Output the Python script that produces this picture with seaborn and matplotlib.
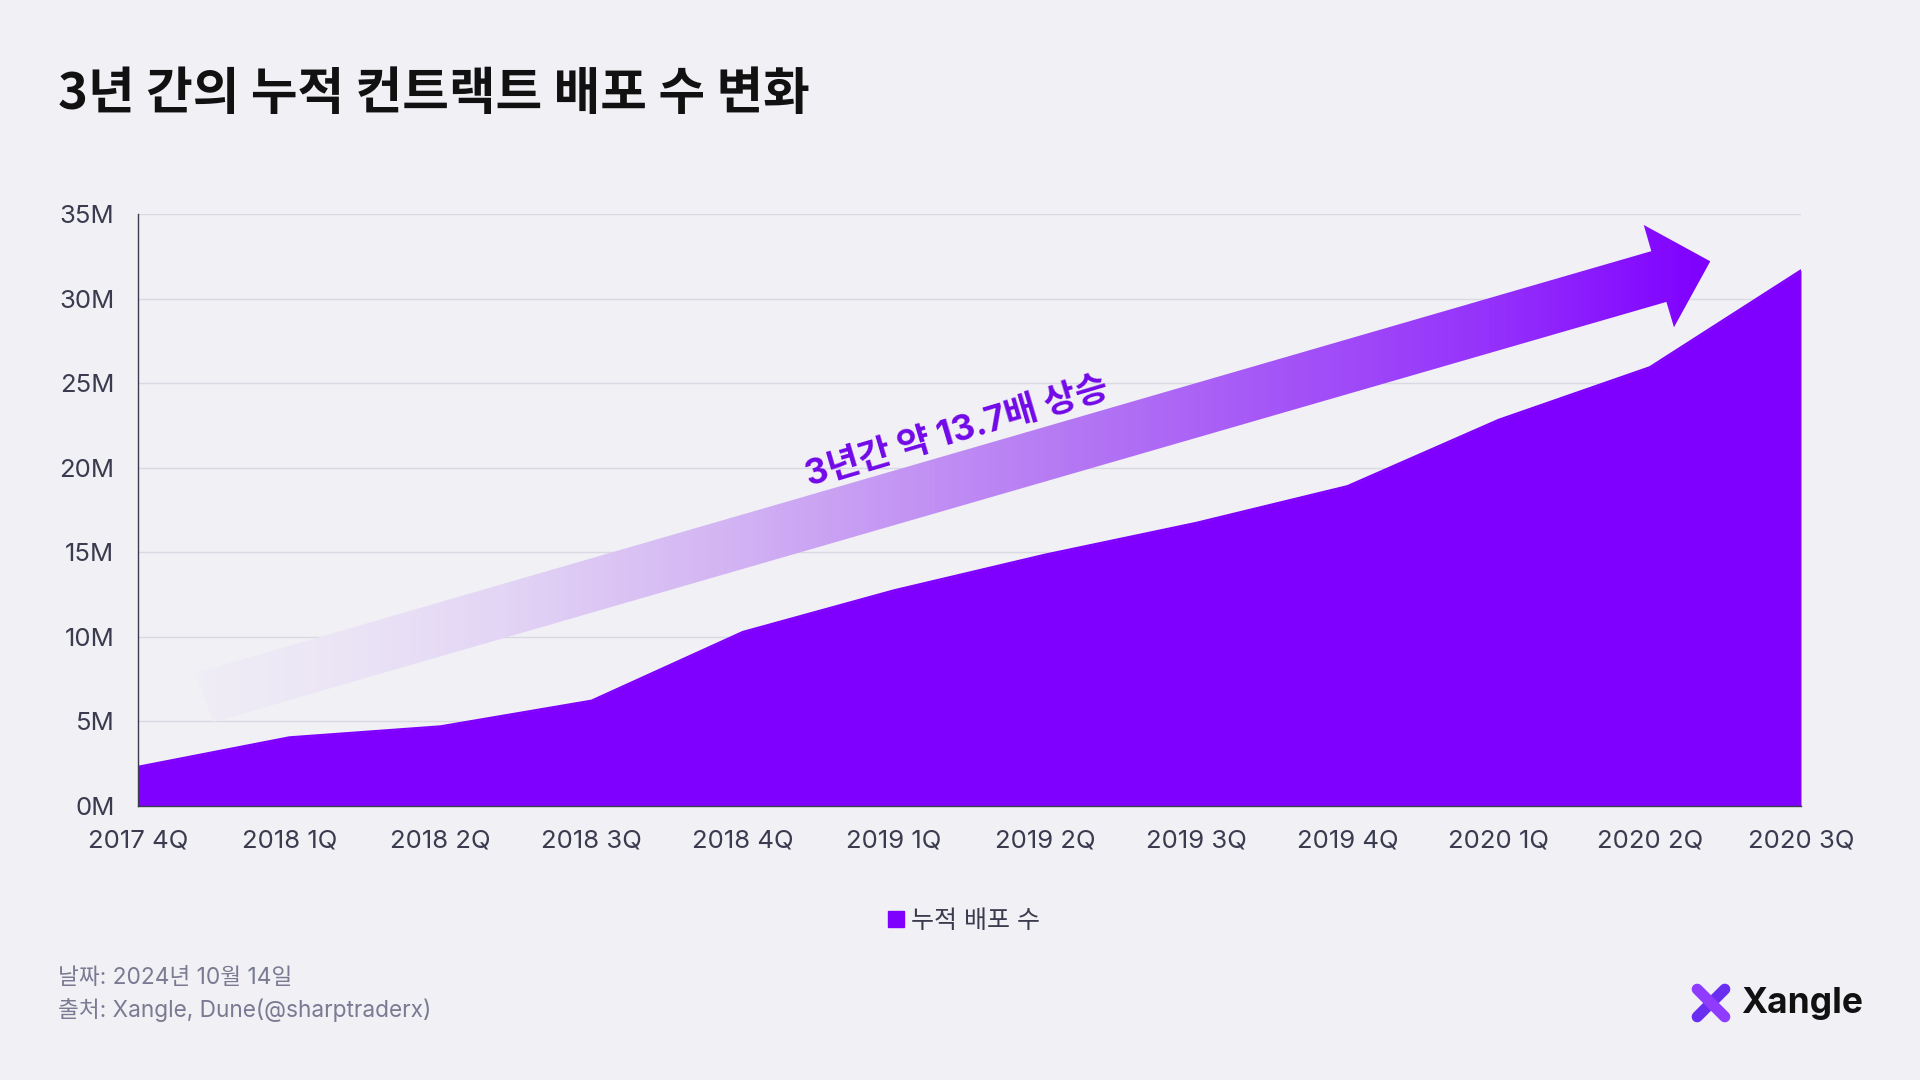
import numpy as np
import pandas as pd
import seaborn as sns
import matplotlib.pyplot as plt
from matplotlib.patches import Polygon
from matplotlib.lines import Line2D
from matplotlib.colors import LinearSegmentedColormap

# data (values in millions)
quarters = ['2017 4Q', '2018 1Q', '2018 2Q', '2018 3Q', '2018 4Q', '2019 1Q',
            '2019 2Q', '2019 3Q', '2019 4Q', '2020 1Q', '2020 2Q', '2020 3Q']
deploys = [2.32, 4.06, 4.71, 6.23, 10.29, 12.75, 14.86, 16.74, 18.91, 22.83, 25.94, 31.67]
y_ticks = [0, 5, 10, 15, 20, 25, 30, 35]
y_ticklabels = ['0M', '5M', '10M', '15M', '20M', '25M', '30M', '35M']

# decorative arrow outline, in (quarter index, millions)
arrow_x = [0.38, 10.01, 9.96, 10.40, 10.16, 10.11, 0.50]
arrow_y = [7.86, 32.8, 34.35, 32.2, 28.3, 29.8, 4.97]

title = '3년 간의 누적 컨트랙트 배포 수 변화'
note = '3년간 약 13.7배 상승'
series_name = '누적 배포 수'
footer = ['날짜: 2024년 10월 14일', '출처: Xangle, Dune(@sharptraderx)']

BG = '#f0f0f5'
PURPLE = '#7f00ff'
TXT = '#3b3b4f'

sns.set_theme(style='white')
plt.rcParams['font.family'] = ['Inter', 'Noto Sans CJK KR', 'DejaVu Sans']
plt.rcParams['axes.unicode_minus'] = False

df = pd.DataFrame({'quarter': quarters, 'idx': np.arange(len(quarters)), 'value': deploys})

fig = plt.figure(figsize=(19.2, 10.8), dpi=100, facecolor=BG)
ax = fig.add_axes([0.0719, 0.2537, 0.8661, 0.5482], facecolor=BG)

# area
sns.lineplot(data=df, x='idx', y='value', ax=ax, color=PURPLE, lw=1.5, zorder=3)
ax.fill_between(df['idx'], 0, df['value'], color=PURPLE, lw=0, zorder=3)

# gradient arrow
grad = LinearSegmentedColormap.from_list(
    'arr', [(0, '#efedf5'), (0.1, '#ebe4f6'), (0.2, '#e3d5f5'), (0.35, '#d3b4f3'),
            (0.6, '#b272f4'), (0.85, '#9634fb'), (1, PURPLE)])
poly = Polygon(np.column_stack([arrow_x, arrow_y]), closed=True, fc='none', ec='none')
ax.add_patch(poly)
xmin, xmax = min(arrow_x), max(arrow_x)
img = ax.imshow(np.linspace(0, 1, 256).reshape(1, -1), cmap=grad, aspect='auto',
                extent=[xmin, xmax, min(arrow_y), max(arrow_y)], origin='lower',
                zorder=2, interpolation='bilinear')
img.set_clip_path(poly)

ax.text(5.42, 22.1, note, rotation=16.5, rotation_mode='anchor', ha='center', va='center',
        fontsize=25.5, fontweight='bold', color='#7209e8',
        family=['Inter', 'Noto Sans CJK KR'], zorder=4)

ax.set_xlim(0, len(quarters) - 1)
ax.set_ylim(0, 35)
ax.set_xticks(df['idx'])
ax.set_xticklabels(quarters)
ax.set_yticks(y_ticks)
ax.set_yticklabels(y_ticklabels)
ax.set_xlabel('')
ax.set_ylabel('')
ax.tick_params(axis='both', labelsize=18.5, colors=TXT, length=8, width=1, direction='out')
ax.tick_params(axis='x', pad=9)
ax.tick_params(axis='y', pad=9)
ax.yaxis.grid(True, color='#d9d9e1', lw=1)
ax.set_axisbelow(True)
for s in ['top', 'right']:
    ax.spines[s].set_visible(False)
for s in ['left', 'bottom']:
    ax.spines[s].set_color(TXT)
    ax.spines[s].set_linewidth(1)
    ax.spines[s].set_zorder(5)

# title
fig.text(58 / 1920, 1 - 94 / 1080, title, fontsize=36.5, fontweight='black', color='#111111',
         va='center', ha='left', family=['Noto Sans CJK KR', 'DejaVu Sans'])

# legend
handle = Line2D([], [], marker='s', color='none', markerfacecolor=PURPLE,
                markeredgecolor=PURPLE, markersize=11)
fig.legend([handle], [series_name], loc='center', bbox_to_anchor=(0.502, 1 - 921 / 1080),
           frameon=False, fontsize=18, handlelength=0.6, handletextpad=0.3,
           labelcolor=TXT)

# footer
fig.text(58 / 1920, 1 - 978 / 1080, footer[0], fontsize=16.3, color='#7a7a92', va='center')
fig.text(58 / 1920, 1 - 1010 / 1080, footer[1], fontsize=16.3, color='#7a7a92', va='center')

# logo
lax = fig.add_axes([1688 / 1920, 1 - 1026 / 1080, 46 / 1920, 46 / 1080])
lax.set_xlim(0, 1)
lax.set_ylim(0, 1)
lax.axis('off')
lax.plot([0.2, 0.8], [0.2, 0.8], color='#6a2ef0', lw=8, solid_capstyle='round')
lax.plot([0.2, 0.8], [0.8, 0.2], color='#8f3cff', lw=8, solid_capstyle='round')
fig.text(1741 / 1920, 1 - 1003 / 1080, 'Xangle', fontsize=25.5, fontweight='bold',
         color='#111111', va='center', ha='left')

fig.savefig('out.png', dpi=100, facecolor=BG)
